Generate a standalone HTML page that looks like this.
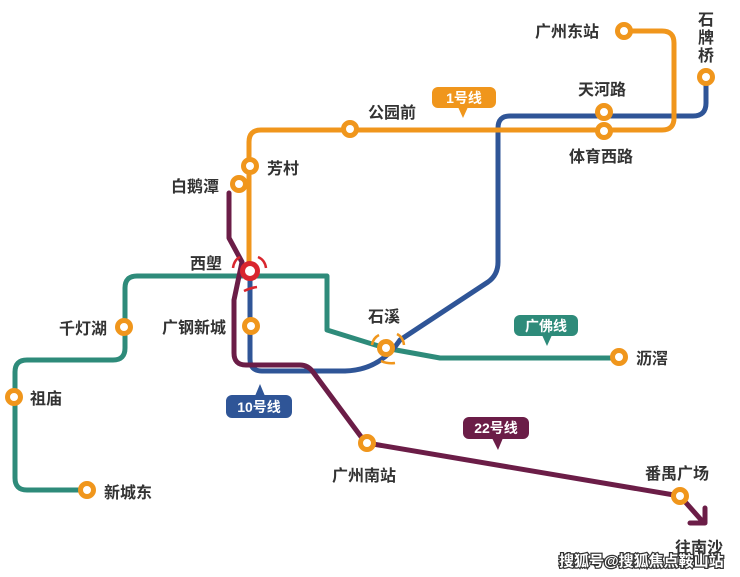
<!DOCTYPE html>
<html><head><meta charset="utf-8"><style>
html,body{margin:0;padding:0;background:#fff;}
svg{display:block;}
text{font-family:"Liberation Sans","Noto Sans CJK SC",sans-serif;font-weight:bold;}
.l{font-size:16px;fill:#333;}
</style></head><body>
<svg width="740" height="577" viewBox="0 0 740 577" xmlns="http://www.w3.org/2000/svg">
<g fill="none" stroke-width="5" stroke-linejoin="round" stroke-linecap="round">
<path d="M87 490 H27 Q15 490 15 478 V372 Q15 360 27 360 H113 Q125 360 125 348 V288 Q125 276 137 276 H327 V330 L385 348 L440 358 H619" stroke="#2e8b7a"/>
<path d="M706 77 V103 Q706 116 693 116 H510 Q498 116 498 128 V262 Q498 275 488 282 L400 340 Q380 370 345 371 H262 Q250 371 250 359 V270" stroke="#2f5597"/>
<path d="M249 270 V142 Q249 130 261 130 H662 Q674 130 674 118 V43 Q674 31 662 31 H624" stroke="#f0961c"/>
<path d="M229 193 V238 L242 262 L234 300 V353 Q234 365 246 365 H300 Q308 365 313 372 L362 438 L367 443 L680 496 L703 522" stroke="#6b1d47"/>
<path d="M690 523 H705 V508" stroke="#6b1d47"/>
</g>
<g fill="#fff" stroke="#f0961c" stroke-width="5">
<circle cx="624" cy="31" r="6.5"/><circle cx="706" cy="77" r="6.5"/>
<circle cx="604" cy="112" r="6.5"/><circle cx="604" cy="131" r="6.5"/>
<circle cx="350" cy="129" r="6.5"/><circle cx="250" cy="166" r="6.5"/>
<circle cx="239" cy="184" r="6.5"/><circle cx="251" cy="326" r="6.5"/>
<circle cx="124" cy="327" r="6.5"/><circle cx="14" cy="397" r="6.5"/>
<circle cx="87" cy="490" r="6.5"/><circle cx="386" cy="348" r="6.5"/>
<circle cx="619" cy="357" r="6.5"/><circle cx="367" cy="443" r="6.5"/>
<circle cx="680" cy="496" r="6.5"/>
</g>
<circle cx="250" cy="271" r="7.5" fill="#fff" stroke="#d9262e" stroke-width="5"/>
<g fill="none" stroke="#d9262e" stroke-width="2.5">
<path d="M233 268 Q234 260 240 257"/><path d="M258 257 Q265 260 266 268"/><path d="M257 287 Q250 288 244 291"/>
</g>
<g fill="none" stroke="#f0961c" stroke-width="2.5">
<path d="M372 345 Q373 338 379 335"/><path d="M397 334 Q403 337 404 345"/><path d="M395 363 Q388 364 381 361"/>
</g>
<text class="l" x="535" y="37">广州东站</text>
<text class="l" x="698" y="25">石</text><text class="l" x="698" y="43">牌</text><text class="l" x="698" y="61">桥</text>
<text class="l" x="578" y="95">天河路</text>
<text class="l" x="569" y="162">体育西路</text>
<text class="l" x="368" y="118">公园前</text>
<text class="l" x="267" y="174">芳村</text>
<text class="l" x="171" y="192">白鹅潭</text>
<text class="l" x="190" y="269">西塱</text>
<text class="l" x="162" y="333">广钢新城</text>
<text class="l" x="59" y="334">千灯湖</text>
<text class="l" x="30" y="404">祖庙</text>
<text class="l" x="104" y="498">新城东</text>
<text class="l" x="368" y="322">石溪</text>
<text class="l" x="636" y="364">沥滘</text>
<text class="l" x="332" y="481">广州南站</text>
<text class="l" x="645" y="479">番禺广场</text>
<text class="l" x="675" y="553">往南沙</text>
<rect x="432" y="87" width="64" height="21" rx="6" fill="#f0961c"/><path d="M458 107 L463 118 L468 107Z" fill="#f0961c"/>
<text x="464" y="103" text-anchor="middle" font-size="14" fill="#fff">1号线</text>
<rect x="514" y="315" width="64" height="21" rx="6" fill="#2e8b7a"/><path d="M542 335 L547 346 L552 335Z" fill="#2e8b7a"/>
<text x="546" y="331" text-anchor="middle" font-size="14" fill="#fff">广佛线</text>
<rect x="226" y="395" width="66" height="23" rx="6" fill="#2f5597"/><path d="M255 396 L260 384 L265 396Z" fill="#2f5597"/>
<text x="259" y="412" text-anchor="middle" font-size="14" fill="#fff">10号线</text>
<rect x="463" y="417" width="66" height="22" rx="6" fill="#6b1d47"/><path d="M492 438 L498 450 L503 438Z" fill="#6b1d47"/>
<text x="496" y="433" text-anchor="middle" font-size="14" fill="#fff">22号线</text>
<text x="559" y="566" font-size="15" fill="#fff" stroke="#333" stroke-width="2.5" paint-order="stroke">搜狐号@搜狐焦点鞍山站</text>
</svg>
</body></html>
